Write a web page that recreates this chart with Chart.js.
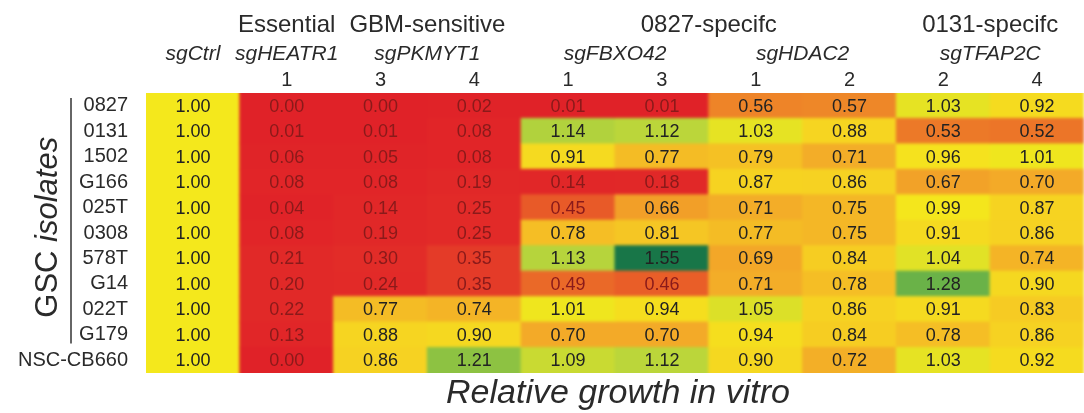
<!DOCTYPE html>
<html>
<head>
<meta charset="utf-8">
<script src="https://cdn.jsdelivr.net/npm/chart.js@4.4.1/dist/chart.umd.min.js"></script>
<style>
    html, body { margin: 0; padding: 0; background: #fff; }
</style>
</head>
<body>
<canvas id="heat" width="1084" height="413"></canvas>
<script>
// строки - изоляты, столбцы - sgRNA
const isolates = ['0827', '0131', '1502', 'G166', '025T', '0308', '578T', 'G14', '022T', 'G179', 'NSC-CB660'];
const genes = ['sgCtrl', 'sgHEATR1', 'sgPKMYT1', 'sgFBXO42', 'sgHDAC2', 'sgTFAP2C'];
const guides = ['', '1', '3', '4', '1', '3', '1', '2', '2', '4'];
const geneOfColumn = [0, 1, 2, 2, 3, 3, 4, 4, 5, 5];
const groupLabels = ['Essential', 'GBM-sensitive', '0827-specifc', '0131-specifc'];
const groupGenes = [[1], [2], [3, 4], [5]];

const sgCtrl    = [1.00, 1.00, 1.00, 1.00, 1.00, 1.00, 1.00, 1.00, 1.00, 1.00, 1.00];
const sgHEATR1_1 = [0.00, 0.01, 0.06, 0.08, 0.04, 0.08, 0.21, 0.20, 0.22, 0.13, 0.00];
const sgPKMYT1_3 = [0.00, 0.01, 0.05, 0.08, 0.14, 0.19, 0.30, 0.24, 0.77, 0.88, 0.86];
const sgPKMYT1_4 = [0.02, 0.08, 0.08, 0.19, 0.25, 0.25, 0.35, 0.35, 0.74, 0.90, 1.21];
const sgFBXO42_1 = [0.01, 1.14, 0.91, 0.14, 0.45, 0.78, 1.13, 0.49, 1.01, 0.70, 1.09];
const sgFBXO42_3 = [0.01, 1.12, 0.77, 0.18, 0.66, 0.81, 1.55, 0.46, 0.94, 0.70, 1.12];
const sgHDAC2_1  = [0.56, 1.03, 0.79, 0.87, 0.71, 0.77, 0.69, 0.71, 1.05, 0.94, 0.90];
const sgHDAC2_2  = [0.57, 0.88, 0.71, 0.86, 0.75, 0.75, 0.84, 0.78, 0.86, 0.84, 0.72];
const sgTFAP2C_2 = [1.03, 0.53, 0.96, 0.67, 0.99, 0.91, 1.04, 1.28, 0.91, 0.78, 1.03];
const sgTFAP2C_4 = [0.92, 0.52, 1.01, 0.70, 0.87, 0.86, 0.74, 0.90, 0.83, 0.86, 0.92];

const columns = [sgCtrl, sgHEATR1_1, sgPKMYT1_3, sgPKMYT1_4, sgFBXO42_1, sgFBXO42_3,
    sgHDAC2_1, sgHDAC2_2, sgTFAP2C_2, sgTFAP2C_4];
const columnKeys = columns.map((c, i) => genes[geneOfColumn[i]] + ' ' + guides[i]);

// цветовая шкала красный - оранжевый - желтый - зеленый
const colorStops = [
    [0.00, [224, 34, 40]],
    [0.30, [226, 44, 40]],
    [0.45, [232, 90, 40]],
    [0.56, [238, 132, 40]],
    [0.70, [243, 170, 40]],
    [0.85, [246, 208, 34]],
    [1.00, [244, 232, 28]],
    [1.13, [182, 212, 60]],
    [1.28, [106, 178, 72]],
    [1.55, [24, 118, 72]]
];

function heatColor(v) {
    let i = 0;
    while (i < colorStops.length - 2 && v > colorStops[i + 1][0]) i++;
    const [v0, c0] = colorStops[i];
    const [v1, c1] = colorStops[i + 1];
    const t = Math.max(0, Math.min(1, (v - v0) / (v1 - v0)));
    const c = c0.map((a, k) => Math.round(a + (c1[k] - a) * t));
    return `rgb(${c[0]}, ${c[1]}, ${c[2]})`;
}

const cells = [];
columns.forEach((col, ci) => col.forEach((v, ri) => cells.push({x: ci, y: ri, v: v})));

const FONT = '"Liberation Sans", Arial, sans-serif';

const heatPlugin = {
    id: 'heatPlugin',
    beforeDatasetsDraw(chart) {
        const {ctx, chartArea: a, scales: {x, y}} = chart;
        const cw = x.getPixelForValue(1) - x.getPixelForValue(0);
        const rh = y.getPixelForValue(1) - y.getPixelForValue(0);
        const nc = columns.length, nr = isolates.length;

        // сначала рисуем ячейки на отдельном холсте, потом переносим с размытием
        const off = document.createElement('canvas');
        off.width = chart.width;
        off.height = chart.height;
        const oc = off.getContext('2d');
        cells.forEach(d => {
            const cx = x.getPixelForValue(d.x);
            const cy = y.getPixelForValue(d.y);
            const l = cx - cw / 2 - (d.x === 0 ? 8 : 0.5);
            const r = cx + cw / 2 + (d.x === nc - 1 ? 8 : 0.5);
            const t = cy - rh / 2 - (d.y === 0 ? 8 : 0.5);
            const b = cy + rh / 2 + (d.y === nr - 1 ? 8 : 0.5);
            oc.fillStyle = heatColor(d.v);
            oc.fillRect(l, t, r - l, b - t);
        });
        ctx.save();
        ctx.beginPath();
        ctx.rect(a.left, a.top, a.right - a.left, a.bottom - a.top);
        ctx.clip();
        ctx.filter = 'blur(1.5px)';
        ctx.drawImage(off, 0, 0, chart.width, chart.height);
        ctx.filter = 'none';
        ctx.restore();

        ctx.save();
        ctx.font = '18px ' + FONT;
        ctx.textAlign = 'center';
        ctx.textBaseline = 'middle';
        cells.forEach(d => {
            ctx.fillStyle = d.v < 0.5 ? '#8a1a1a' : '#222';
            ctx.fillText(d.v.toFixed(2), x.getPixelForValue(d.x), y.getPixelForValue(d.y) + 1);
        });
        ctx.restore();
    },
    afterDraw(chart) {
        const {ctx, scales: {x, y}} = chart;
        const rh = y.getPixelForValue(1) - y.getPixelForValue(0);
        ctx.save();
        ctx.fillStyle = '#2a2a2a';
        ctx.textAlign = 'center';
        ctx.textBaseline = 'alphabetic';

        // номера sgRNA
        ctx.font = '20px ' + FONT;
        guides.forEach((g, i) => ctx.fillText(g, x.getPixelForValue(i), 86));

        // названия генов
        const geneCenter = gi => {
            const idx = geneOfColumn.map((g, i) => g === gi ? i : -1).filter(i => i >= 0);
            return (x.getPixelForValue(idx[0]) + x.getPixelForValue(idx[idx.length - 1])) / 2;
        };
        ctx.font = 'italic 21px ' + FONT;
        genes.forEach((g, gi) => ctx.fillText(g, geneCenter(gi), 60));

        // группы
        ctx.font = '24px ' + FONT;
        groupLabels.forEach((lab, k) => {
            const gs = groupGenes[k];
            const cx = (geneCenter(gs[0]) + geneCenter(gs[gs.length - 1])) / 2;
            ctx.fillText(lab, cx, 32);
        });

        // вертикальная линия у GSC изолятов
        ctx.strokeStyle = '#333';
        ctx.lineWidth = 1.5;
        ctx.beginPath();
        ctx.moveTo(71, y.getPixelForValue(0) - rh / 2 + 5);
        ctx.lineTo(71, y.getPixelForValue(isolates.length - 2) + rh / 2 - 4);
        ctx.stroke();

        // подпись слева: "GSC" прямым, "isolates" курсивом
        const midY = (y.getPixelForValue(0) + y.getPixelForValue(isolates.length - 2)) / 2 + 7;
        ctx.translate(57, midY);
        ctx.rotate(-Math.PI / 2);
        ctx.textAlign = 'left';
        const f1 = '31px ' + FONT, f2 = 'italic 31px ' + FONT;
        ctx.font = f1;
        const w1 = ctx.measureText('GSC ').width;
        ctx.font = f2;
        const w2 = ctx.measureText('isolates').width;
        ctx.font = f1;
        ctx.fillText('GSC ', -(w1 + w2) / 2, 0);
        ctx.font = f2;
        ctx.fillText('isolates', -(w1 + w2) / 2 + w1, 0);
        ctx.setTransform(1, 0, 0, 1, 0, 0);

        // подпись снизу
        ctx.textAlign = 'center';
        ctx.font = 'italic 34px ' + FONT;
        ctx.fillText('Relative growth in vitro', 618, 403);
        ctx.restore();
    }
};

new Chart(document.getElementById('heat'), {
    type: 'scatter',
    data: {
        datasets: [{
            data: cells,
            pointRadius: 0,
            pointHoverRadius: 0
        }]
    },
    options: {
        responsive: false,
        animation: false,
        events: [],
        layout: {padding: {top: 93, bottom: 40, left: 0, right: 0}},
        plugins: {legend: {display: false}, tooltip: {enabled: false}},
        scales: {
            x: {
                type: 'category',
                labels: columnKeys,
                offset: true,
                display: false
            },
            y: {
                type: 'category',
                labels: isolates,
                offset: true,
                grid: {display: false, drawTicks: false},
                border: {display: false},
                ticks: {
                    autoSkip: false,
                    padding: 18,
                    color: '#2a2a2a',
                    font: {family: FONT, size: 20}
                },
                afterFit(scale) {
                    scale.width = 146;
                }
            }
        }
    },
    plugins: [heatPlugin]
});
</script>
</body>
</html>
